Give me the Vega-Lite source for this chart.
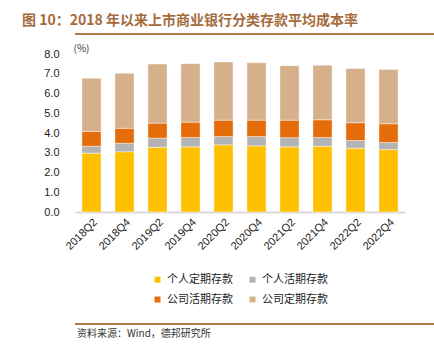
{
  "$schema": "https://vega.github.io/schema/vega-lite/v6.json",
  "padding": {"left": 20, "top": 14, "right": 2, "bottom": 0},
  "spacing": 8,
  "title": {"text": "图 10：2018 年以来上市商业银行分类存款平均成本率", "anchor": "start", "frame": "bounds", "fontSize": 14, "fontWeight": "bold", "color": "#A56B3C", "offset": 5, "dx": 2},
  "resolve": {"legend": {"color": "independent"}, "scale": {"x": "independent", "y": "independent"}},
  "config": {"font": "Noto Sans CJK SC", "legend": {"layout": {"bottom": {"anchor": "middle"}}}},
  "datasets": {
    "deposits": [
      {"quarter": "2018Q2", "type": "个人定期存款", "value": 2.98},
      {"quarter": "2018Q2", "type": "个人活期存款", "value": 0.35},
      {"quarter": "2018Q2", "type": "公司活期存款", "value": 0.75},
      {"quarter": "2018Q2", "type": "公司定期存款", "value": 2.69},
      {"quarter": "2018Q4", "type": "个人定期存款", "value": 3.05},
      {"quarter": "2018Q4", "type": "个人活期存款", "value": 0.43},
      {"quarter": "2018Q4", "type": "公司活期存款", "value": 0.76},
      {"quarter": "2018Q4", "type": "公司定期存款", "value": 2.78},
      {"quarter": "2019Q2", "type": "个人定期存款", "value": 3.28},
      {"quarter": "2019Q2", "type": "个人活期存款", "value": 0.46},
      {"quarter": "2019Q2", "type": "公司活期存款", "value": 0.76},
      {"quarter": "2019Q2", "type": "公司定期存款", "value": 2.99},
      {"quarter": "2019Q4", "type": "个人定期存款", "value": 3.30},
      {"quarter": "2019Q4", "type": "个人活期存款", "value": 0.47},
      {"quarter": "2019Q4", "type": "公司活期存款", "value": 0.78},
      {"quarter": "2019Q4", "type": "公司定期存款", "value": 2.96},
      {"quarter": "2020Q2", "type": "个人定期存款", "value": 3.40},
      {"quarter": "2020Q2", "type": "个人活期存款", "value": 0.42},
      {"quarter": "2020Q2", "type": "公司活期存款", "value": 0.83},
      {"quarter": "2020Q2", "type": "公司定期存款", "value": 2.94},
      {"quarter": "2020Q4", "type": "个人定期存款", "value": 3.35},
      {"quarter": "2020Q4", "type": "个人活期存款", "value": 0.47},
      {"quarter": "2020Q4", "type": "公司活期存款", "value": 0.83},
      {"quarter": "2020Q4", "type": "公司定期存款", "value": 2.91},
      {"quarter": "2021Q2", "type": "个人定期存款", "value": 3.30},
      {"quarter": "2021Q2", "type": "个人活期存款", "value": 0.46},
      {"quarter": "2021Q2", "type": "公司活期存款", "value": 0.89},
      {"quarter": "2021Q2", "type": "公司定期存款", "value": 2.76},
      {"quarter": "2021Q4", "type": "个人定期存款", "value": 3.33},
      {"quarter": "2021Q4", "type": "个人活期存款", "value": 0.44},
      {"quarter": "2021Q4", "type": "公司活期存款", "value": 0.90},
      {"quarter": "2021Q4", "type": "公司定期存款", "value": 2.76},
      {"quarter": "2022Q2", "type": "个人定期存款", "value": 3.23},
      {"quarter": "2022Q2", "type": "个人活期存款", "value": 0.39},
      {"quarter": "2022Q2", "type": "公司活期存款", "value": 0.90},
      {"quarter": "2022Q2", "type": "公司定期存款", "value": 2.75},
      {"quarter": "2022Q4", "type": "个人定期存款", "value": 3.16},
      {"quarter": "2022Q4", "type": "个人活期存款", "value": 0.36},
      {"quarter": "2022Q4", "type": "公司活期存款", "value": 0.95},
      {"quarter": "2022Q4", "type": "公司定期存款", "value": 2.75}
    ],
    "band": [{"a": 0, "b": 1}]
  },
  "vconcat": [
    {
      "width": 412,
      "height": 2,
      "view": {"stroke": null},
      "data": {"name": "band"},
      "mark": {"type": "rect", "fill": "#B07B4F"},
      "encoding": {
        "x": {"field": "a", "type": "quantitative", "scale": {"domain": [0, 1], "nice": false, "zero": false}, "axis": null},
        "x2": {"field": "b"},
        "y": {"field": "a", "type": "quantitative", "scale": {"domain": [0, 1], "nice": false, "zero": false}, "axis": null},
        "y2": {"field": "b"}
      }
    },
    {
      "width": 330,
      "height": 158,
      "view": {"stroke": null},
      "data": {"name": "deposits"},
      "transform": [
        {"calculate": "indexof(['个人定期存款','个人活期存款','公司活期存款','公司定期存款'], datum.type)", "as": "k"}
      ],
      "mark": {"type": "bar", "stroke": "white", "strokeWidth": 0.6, "strokeOpacity": 0.7},
      "encoding": {
        "x": {"field": "quarter", "type": "nominal", "sort": null,
          "scale": {"paddingInner": 0.42, "paddingOuter": 0.21},
          "axis": {"title": null, "labelAngle": -45, "labelFontSize": 11, "labelColor": "#222", "labelFont": "Liberation Sans", "ticks": false, "domainColor": "#D9D9D9", "domainWidth": 2, "labelPadding": 4}},
        "y": {"field": "value", "type": "quantitative", "stack": "zero",
          "scale": {"domain": [0, 8]},
          "axis": {"values": [0, 1, 2, 3, 4, 5, 6, 7, 8], "format": ".1f", "grid": false, "domain": false, "ticks": false, "labelFontSize": 11, "labelColor": "#222", "labelFont": "Liberation Sans", "labelPadding": 16, "minExtent": 55,
            "title": "(%)", "titleAngle": 0, "titleX": -2, "titleY": -1, "titleAlign": "left", "titleBaseline": "bottom", "titleFontSize": 10, "titleFontWeight": "normal", "titleColor": "#333"}},
        "color": {"field": "type", "type": "nominal",
          "scale": {"domain": ["个人定期存款", "个人活期存款", "公司活期存款", "公司定期存款"], "range": ["#FFC000", "#B3B3B3", "#E46C0A", "#D5B08B"]},
          "legend": {"title": null, "orient": "bottom", "offset": 22, "columns": 2, "direction": "horizontal", "symbolType": "square", "symbolSize": 36, "symbolStrokeWidth": 0, "labelFontSize": 11, "labelColor": "#222", "columnPadding": 14, "rowPadding": 8, "labelOffset": 4}},
        "order": {"field": "k", "type": "quantitative"}
      }
    },
    {
      "title": {"text": "资料来源：Wind，德邦研究所", "orient": "bottom", "anchor": "start", "fontSize": 10, "fontWeight": "normal", "color": "#333", "offset": 4, "dx": 2},
      "width": 412,
      "height": 12,
      "view": {"stroke": null},
      "data": {"name": "band"},
      "mark": {"type": "rect", "fill": "#B07B4F"},
      "encoding": {
        "x": {"field": "a", "type": "quantitative", "scale": {"domain": [0, 1], "nice": false, "zero": false}, "axis": null},
        "x2": {"field": "b"},
        "y": {"field": "a", "type": "quantitative", "scale": {"domain": [0, 6], "nice": false, "zero": false}, "axis": null},
        "y2": {"field": "b"}
      }
    }
  ]
}
